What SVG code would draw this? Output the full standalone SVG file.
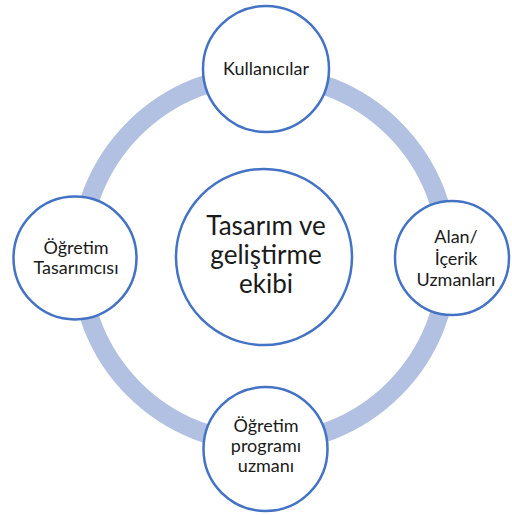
<svg xmlns="http://www.w3.org/2000/svg" width="512" height="515" viewBox="0 0 512 515">
  <style>
    .node { fill: #ffffff; stroke: #4472C4; stroke-width: 2.5; }
    .ring { fill: none; stroke: #B2C0E2; stroke-width: 19; }
    .lbl { font-family: Lato, "Open Sans", sans-serif; font-size: 18px; fill: #1a1a1a; text-anchor: middle; }
    .big { font-size: 26px; }
  </style>
  <rect width="512" height="515" fill="#ffffff"/>
  <!-- cycle ring linking the outer roles -->
  <g id="connectors">
    <circle class="ring" cx="264" cy="259" r="184"/>
  </g>
  <g id="center">
    <circle class="node" cx="264" cy="257" r="88"/>
    <text class="lbl big" x="266" y="235">Tasarım ve</text>
    <text class="lbl big" x="266" y="264">geliştirme</text>
    <text class="lbl big" x="266" y="293">ekibi</text>
  </g>
  <g id="kullanicilar">
    <circle class="node" cx="266" cy="69" r="63"/>
    <text class="lbl" x="266" y="75">Kullanıcılar</text>
  </g>
  <g id="alan-uzmanlari">
    <circle class="node" cx="452" cy="258" r="57"/>
    <text class="lbl" x="456" y="243">Alan/</text>
    <text class="lbl" x="456" y="265">İçerik</text>
    <text class="lbl" x="456" y="286">Uzmanları</text>
  </g>
  <g id="program-uzmani">
    <circle class="node" cx="265.5" cy="449" r="62"/>
    <text class="lbl" x="266" y="432">Öğretim</text>
    <text class="lbl" x="266" y="452">programı</text>
    <text class="lbl" x="266" y="472">uzmanı</text>
  </g>
  <g id="ogretim-tasarimcisi">
    <circle class="node" cx="75" cy="258" r="61.5"/>
    <text class="lbl" x="76" y="254">Öğretim</text>
    <text class="lbl" x="76" y="274">Tasarımcısı</text>
  </g>
</svg>
